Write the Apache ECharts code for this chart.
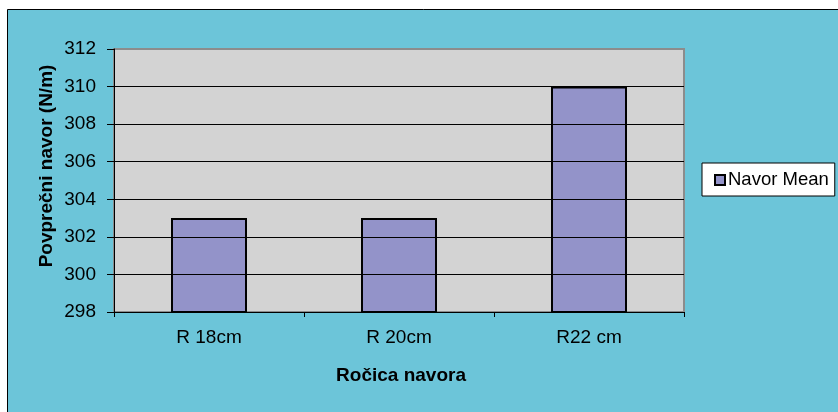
<!DOCTYPE html>
<html><head><meta charset="utf-8">
<script src="https://cdn.jsdelivr.net/npm/echarts@6/dist/echarts.min.js"></script>
<style>html,body{margin:0;padding:0;background:#fff}#c{width:838px;height:412px}</style>
</head><body><div id="c"></div>
<script>
const categories = ['R 18cm', 'R 20cm', 'R22 cm'];
const navorMean = [303, 303, 310];
const yTicks = { min: 298, max: 312, interval: 2 };
const xTitle = 'Ročica navora';
const yTitle = 'Povprečni navor (N/m)';

const chart = echarts.init(document.getElementById('c'));
const font = '"Liberation Sans", Arial, sans-serif';
chart.setOption({
  animation: false,
  graphic: [{
    type: 'rect', z: -100, silent: true,
    shape: { x: 7.5, y: 9.5, width: 840, height: 410 },
    style: { fill: '#6CC5D9', stroke: '#000', lineWidth: 1 }
  }, {
    type: 'text', x: 47, y: 166, rotation: Math.PI / 2, silent: true,
    style: { text: yTitle, font: 'bold 19px ' + font, fill: '#000', align: 'center', verticalAlign: 'middle' }
  }, {
    type: 'text', x: 401, y: 376, silent: true,
    style: { text: xTitle, font: 'bold 19px ' + font, fill: '#000', align: 'center', verticalAlign: 'middle' }
  }],
  grid: {
    left: 114, top: 49, width: 570, height: 263,
    show: true, backgroundColor: '#D3D3D3', borderColor: '#8C8C8C', borderWidth: 2
  },
  legend: {
    left: 702, top: 163, orient: 'vertical',
    backgroundColor: '#fff', borderColor: '#000', borderWidth: 1,
    padding: [7, 6, 6, 12], itemWidth: 10, itemHeight: 10, itemGap: 4,
    icon: 'rect',
    textStyle: { fontFamily: font, fontSize: 18.5, lineHeight: 20, color: '#000', padding: [0, 0, 0, -2] },
    itemStyle: { borderColor: '#000', borderWidth: 2 },
    data: ['Navor Mean']
  },
  xAxis: {
    type: 'category', data: categories,
    axisLine: { lineStyle: { color: '#000', width: 1 } },
    axisTick: { show: true, length: 5, lineStyle: { color: '#000' } },
    axisLabel: { fontFamily: font, fontSize: 19, color: '#000', margin: 16 },
    z: 5
  },
  yAxis: {
    type: 'value', min: yTicks.min, max: yTicks.max, interval: yTicks.interval,
    axisLine: { show: true, lineStyle: { color: '#000', width: 1 } },
    axisTick: { show: true, length: 7, lineStyle: { color: '#000' } },
    axisLabel: { fontFamily: font, fontSize: 19, color: '#000', margin: 18 },
    splitLine: { show: true, showMaxLine: false, lineStyle: { color: '#000', width: 1 } },
    z: 5
  },
  series: [{
    name: 'Navor Mean', type: 'bar', data: navorMean, barWidth: '40%',
    itemStyle: { color: '#9393C9', borderColor: '#000', borderWidth: 2 }
  }]
});
</script></body></html>
